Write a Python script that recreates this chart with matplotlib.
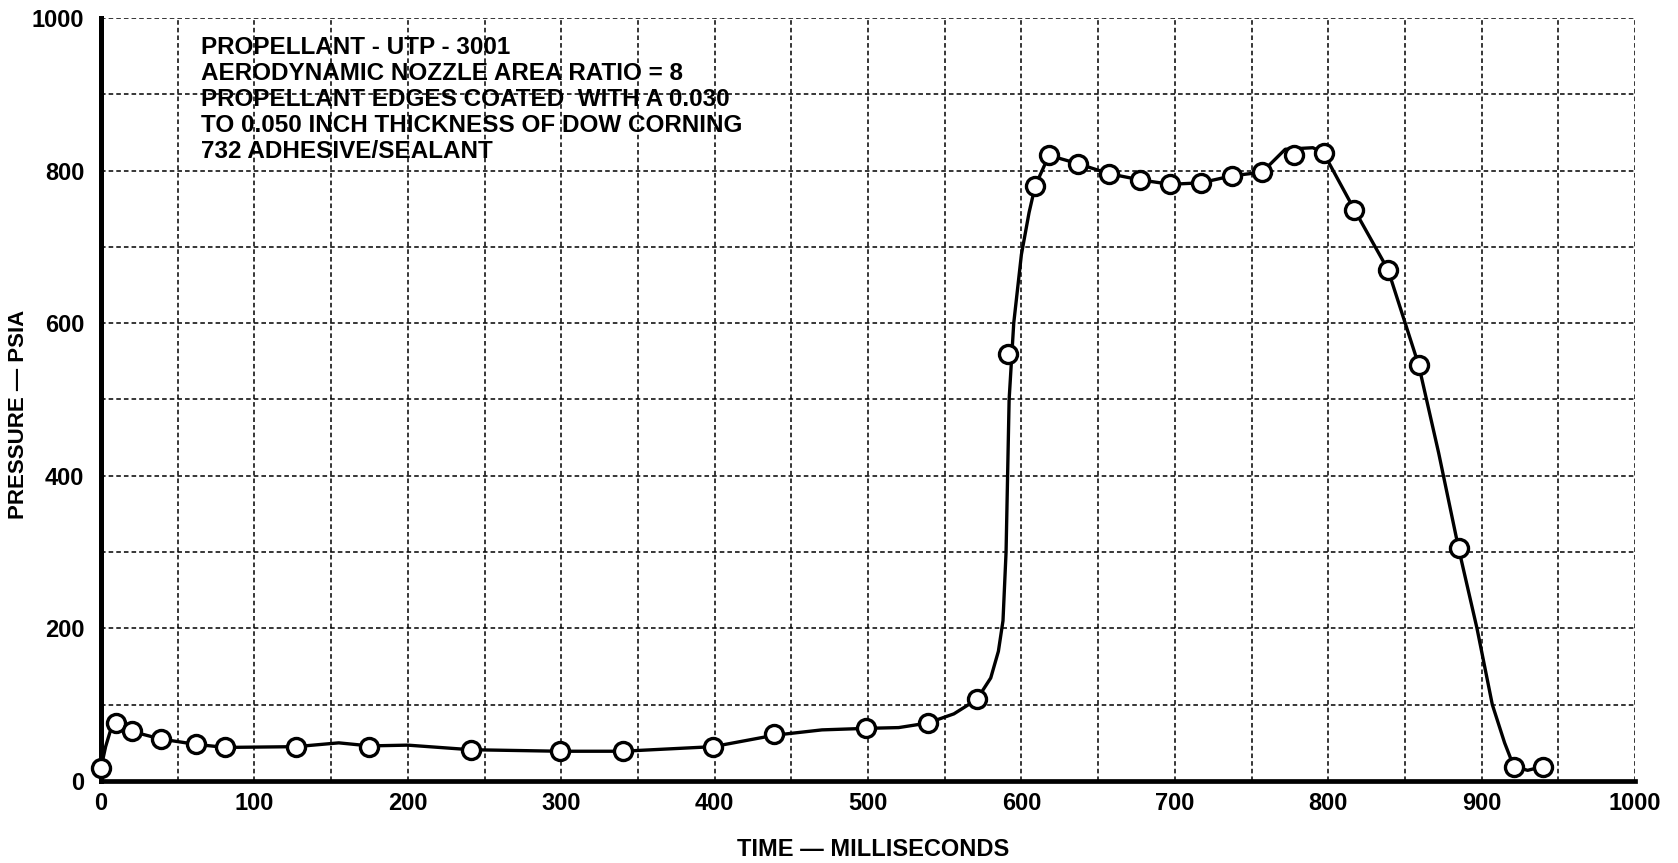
import matplotlib
matplotlib.use("Agg")
import matplotlib.pyplot as plt

# ---- data ----
marker_t = [0, 10, 20, 39, 62, 81, 127, 175, 241, 299, 340, 399, 439, 499, 539,
            571, 591, 609, 618, 637, 657, 677, 697, 717, 737, 757, 778, 797,
            817, 839, 859, 885, 921, 940]
marker_p = [17, 76, 65, 55, 48, 44, 45, 45, 41, 39, 39, 45, 61, 69, 76,
            107, 560, 780, 820, 809, 796, 788, 782, 784, 793, 798, 820, 823,
            749, 670, 545, 305, 19, 19]

# traced faired curve
curve_t = [0, 3, 6, 10, 20, 39, 62, 81, 127, 155, 175, 200, 241, 299, 340, 399,
           439, 470, 499, 520, 539, 556, 571, 580, 585, 588, 590, 591, 592, 595,
           600, 605, 609, 618, 637, 657, 677, 697, 717, 737, 757, 772, 790, 797,
           817, 839, 859, 872, 885, 897, 907, 915, 921, 930, 940]
curve_p = [17, 45, 65, 76, 65, 55, 48, 44, 45, 50, 46, 47, 41, 39, 39, 45,
           60, 67, 69, 70, 76, 88, 107, 135, 170, 210, 300, 400, 500, 600,
           690, 745, 780, 820, 809, 796, 788, 782, 784, 793, 798, 828, 830, 823,
           749, 670, 545, 430, 305, 200, 100, 50, 19, 14, 19]

x_ticks = [0, 100, 200, 300, 400, 500, 600, 700, 800, 900, 1000]
y_ticks = [0, 200, 400, 600, 800, 1000]

note_lines = ["PROPELLANT - UTP - 3001",
              "AERODYNAMIC NOZZLE AREA RATIO = 8",
              "PROPELLANT EDGES COATED  WITH A 0.030",
              "TO 0.050 INCH THICKNESS OF DOW CORNING",
              "732 ADHESIVE/SEALANT"]

FONT = ["Liberation Sans", "DejaVu Sans"]

W, H = 1678, 863
fig = plt.figure(figsize=(W / 100, H / 100), dpi=100)
ax = fig.add_axes([101 / W, 1 - 781 / H, (1635 - 101) / W, (781 - 18) / H])

ax.set_xlim(0, 1000)
ax.set_ylim(0, 1000)

ax.set_xticks(x_ticks)
ax.set_xticks([t for t in range(50, 1001, 100)], minor=True)
ax.set_yticks(y_ticks)
ax.set_yticks([t for t in range(100, 1001, 200)], minor=True)
ax.grid(True, which="both", color="black", linestyle=(0, (3, 2)), linewidth=1.1)
ax.set_axisbelow(True)
ax.set_xticklabels([str(t) for t in x_ticks], family=FONT, weight="bold", fontsize=17)
ax.set_yticklabels([str(t) for t in y_ticks], family=FONT, weight="bold", fontsize=17)
ax.tick_params(which="both", length=0)
ax.tick_params(axis="x", pad=8)
ax.tick_params(axis="y", pad=12)

for s in ["top", "right"]:
    ax.spines[s].set_visible(False)
ax.spines["left"].set_linewidth(3.6)
ax.spines["bottom"].set_linewidth(3.4)

ax.plot(curve_t, curve_p, color="black", linewidth=2.4, solid_joinstyle="round",
        zorder=3, clip_on=False)
ax.plot(marker_t, marker_p, linestyle="none", marker="o", markersize=13,
        markerfacecolor="white", markeredgecolor="black", markeredgewidth=2.4,
        zorder=4, clip_on=False)

for i, line in enumerate(note_lines):
    fig.text(201 / W, 1 - (48 + i * 25.8) / H, line, family=FONT, weight="bold",
             fontsize=17.5, va="center", ha="left")

fig.text(19 / W, 1 - 414 / H, "PRESSURE \u2014 PSIA", family=FONT, weight="bold",
         fontsize=16, rotation=90, va="center", ha="center")
fig.text(873 / W, 1 - 849 / H, "TIME \u2014 MILLISECONDS", family=FONT, weight="bold",
         fontsize=17, va="center", ha="center")

fig.savefig("out.png", dpi=100, facecolor="white")
